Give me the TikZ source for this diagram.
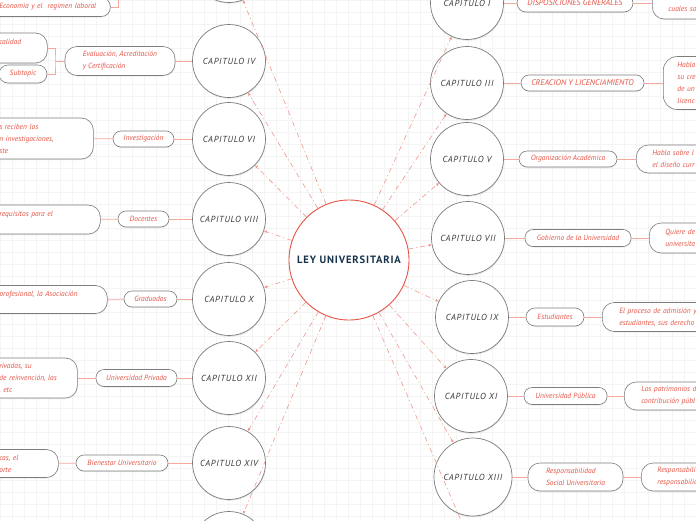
\documentclass[tikz,border=0pt]{standalone}
\usepackage{fontspec}
\setmainfont{PT Sans}
\newfontfamily\capfont{PT Sans}[LetterSpace=8]
\usetikzlibrary{shadows,arrows.meta}
\definecolor{leyred}{RGB}{230,84,70}
\definecolor{linkred}{RGB}{244,168,158}
\definecolor{dashred}{RGB}{242,150,138}
\definecolor{capgray}{RGB}{125,125,125}
\definecolor{captext}{RGB}{55,55,55}
\definecolor{leyblue}{RGB}{22,52,78}
\definecolor{gridgray}{RGB}{244,244,244}

\begin{document}
\begin{tikzpicture}[
    x=1pt, y=-1pt,
    gridline/.style={gridgray, line width=0.4pt},
    core/.style={circle, draw=leyred, line width=0.9pt, fill=white,
      minimum size=120pt, inner sep=0pt, text=leyblue,
      font=\capfont\bfseries\fontsize{10.6}{13}\selectfont},
    chapter/.style={circle, draw=capgray, line width=0.7pt, fill=white,
      minimum size=73pt, inner sep=0pt, text=captext,
      font=\capfont\itshape\fontsize{8.8}{10}\selectfont,
      drop shadow={opacity=0.18, shadow xshift=0.4pt, shadow yshift=-1.3pt}},
    topic/.style={draw=capgray, line width=0.6pt, fill=white,
      rounded corners=8pt, inner xsep=4pt, inner ysep=0pt, text=leyred,
      font=\itshape\fontsize{7.5}{12}\selectfont, align=center,
      drop shadow={opacity=0.15, shadow xshift=0.3pt, shadow yshift=-1pt}},
    capstopic/.style={topic, font=\itshape\fontsize{8.2}{12}\selectfont},
    note/.style={topic, rounded corners=12pt, align=left, inner xsep=13pt},
    link/.style={linkred, line width=0.8pt},
    spoke/.style={dashred, line width=0.6pt,
      dash pattern=on 5pt off 3pt on 1pt off 3pt,
      -{Latex[length=3pt,width=3pt]}},
  ]

\useasboundingbox (0,0) rectangle (696,520);
\clip (0,0) rectangle (696,520);

% Page background with the faint squared grid.
\fill[white] (0,0) rectangle (696,520);
\draw[gridline, step=12pt] (0,0) grid (696,520);

% Central topic.
\node[core] (ley) at (349,260) {LEY UNIVERSITARIA};

% Even chapters on the left, odd chapters on the right; the first and last
% of each column sit partly off the page, their titles out of sight.
\node[chapter] (capII)   at (229,-34) {};
\node[chapter] (capIV)   at (229,61)  {CAPITULO IV};
\node[chapter] (capVI)   at (229,139) {CAPITULO VI};
\node[chapter] (capVIII) at (229,219) {CAPITULO VIII};
\node[chapter] (capX)    at (229,299) {CAPITULO X};
\node[chapter] (capXII)  at (229,378) {CAPITULO XII};
\node[chapter] (capXIV)  at (229,463) {CAPITULO XIV};
\node[chapter] (capXVI)  at (229,548) {};

\node[chapter] (capI)    at (467,3)   {CAPITULO I};
\node[chapter] (capIII)  at (467,83)  {CAPITULO III};
\node[chapter] (capV)    at (467,159) {CAPITULO V};
\node[chapter] (capVII)  at (468,238) {CAPITULO VII};
\node[chapter] (capIX)   at (472,317) {CAPITULO IX};
\node[chapter] (capXI)   at (471,396) {CAPITULO XI};
\node[chapter, minimum size=78pt] (capXIII) at (473,477) {CAPITULO XIII};
\node[chapter] (capXV)   at (478,560) {};

\foreach \cap in {capII,capIV,capVI,capVIII,capX,capXII,capXIV,capXVI,
                  capI,capIII,capV,capVII,capIX,capXI,capXIII,capXV}
  \draw[spoke] (ley) -- (\cap);

% Left column: chapter titles and their notes, cut by the page edge.
\node[note, anchor=west, text width=98pt, minimum height=19pt,
  rounded corners=9pt] (economia) at (-14,7)
  {Economia y el~~regimen laboral};
\coordinate (brII) at (118,-12);
\draw[link] (economia.east) -| (brII);

\node[topic, align=left, minimum width=110pt, minimum height=29pt,
  rounded corners=12pt] (evaluacion) at (120,61)
  {Evaluación, Acreditación\\y Certificación};
\node[note, anchor=west, text width=35pt, minimum height=30pt] (calidad)
  at (-14,48) {calidad\\\mbox{}};
\node[topic, minimum width=48pt, minimum height=18pt, rounded corners=9pt]
  (subtopic) at (23,74) {Subtopic};
\coordinate (brIV) at (55,61);
\draw[link] (capIV) -- (evaluacion);
\draw[link] (calidad.east) -| (brIV) |- (subtopic.east);
\draw[link] (brIV) -- (evaluacion.west);

\node[topic, minimum width=61pt, minimum height=16pt] (investigacion)
  at (143.5,139) {Investigación};
\node[note, anchor=west, text width=81pt, minimum height=41pt] (invnote)
  at (-14,138.5) {s reciben los\\n investigaciones,\\ste};
\draw[link] (capVI) -- (investigacion);
\draw[link] (investigacion) -- (invnote);

\node[topic, minimum width=51pt, minimum height=16pt] (docentes)
  at (143.5,219) {Docentes};
\node[note, anchor=west, text width=88pt, minimum height=29pt] (docnote)
  at (-14,219.5) {requisitos para el\\\mbox{}};
\draw[link] (capVIII) -- (docentes);
\draw[link] (docentes) -- (docnote);

\node[topic, minimum width=53pt, minimum height=16pt] (graduados)
  at (150.5,299) {Graduados};
\node[note, anchor=west, text width=95pt, minimum height=28pt] (gradnote)
  at (-14,299.5) {profesional, la Asociación\\\mbox{}};
\draw[link] (capX) -- (graduados);
\draw[link] (graduados) -- (gradnote);

\node[topic, minimum width=81pt, minimum height=17pt] (privada)
  at (136.5,378) {Universidad Privada};
\node[note, anchor=west, text width=65pt, minimum height=40pt] (privnote)
  at (-14,378) {rivadas, su\\de reinvención, las\\, etc};
\draw[link] (capXII) -- (privada);
\draw[link] (privada) -- (privnote);

\node[topic, minimum width=92pt, minimum height=16pt] (bienestar)
  at (122,463) {Bienestar Universitario};
\node[note, anchor=west, text width=46pt, minimum height=28pt] (bienote)
  at (-14,463.5) {cas, el\\orte};
\draw[link] (capXIV) -- (bienestar);
\draw[link] (bienestar) -- (bienote);

% Right column: chapter titles and their notes, cut by the page edge.
\node[capstopic, minimum width=116pt, minimum height=18pt,
  rounded corners=9pt] (disposiciones) at (575,3) {DISPOSICIONES GENERALES};
\node[note, anchor=west, text width=90pt, inner xsep=16pt,
  minimum height=32pt] (dispnote) at (652,3) {en este\\cuales so};
\draw[link] (capI) -- (disposiciones);
\draw[link] (disposiciones) -- (dispnote);

\node[capstopic, minimum width=123pt, minimum height=16pt] (creacion)
  at (582.5,83) {CREACION Y LICENCIAMIENTO};
\node[note, anchor=west, text width=90pt, inner xsep=14pt,
  minimum height=53pt, rounded corners=14pt] (creanote) at (663,83)
  {Habla\\su cre\\de un\\licenc};
\draw[link] (capIII) -- (creacion);
\draw[link] (creacion) -- (creanote);

\node[topic, minimum width=98pt, minimum height=16pt] (organizacion)
  at (568,159) {Organización Académica};
\node[note, anchor=west, text width=90pt, inner xsep=16pt,
  minimum height=28pt] (orgnote) at (636,159)
  {Habla sobre l\\el diseño curr};
\draw[link] (capV) -- (organizacion);
\draw[link] (organizacion) -- (orgnote);

\node[topic, minimum width=106pt, minimum height=17pt] (gobierno)
  at (578,238) {Gobierno de la Universidad};
\node[note, anchor=west, text width=90pt, inner xsep=16pt,
  minimum height=30pt] (gobnote) at (649,238) {Quiere de\\universita};
\draw[link] (capVII) -- (gobierno);
\draw[link] (gobierno) -- (gobnote);

\node[topic, minimum width=58pt, minimum height=18pt, rounded corners=9pt]
  (estudiantes) at (555,317) {Estudiantes};
\node[note, anchor=west, text width=100pt, inner xsep=17pt,
  minimum height=29pt] (estnote) at (602,317)
  {El proceso de admisión y\\estudiantes, sus derecho};
\draw[link] (capIX) -- (estudiantes);
\draw[link] (estudiantes) -- (estnote);

\node[topic, minimum width=83pt, minimum height=17pt] (publica)
  at (565.5,396) {Universidad Pública};
\node[note, anchor=west, text width=90pt, inner xsep=17pt,
  minimum height=28pt] (pubnote) at (624,396)
  {Los patrimonios d\\contribución públ};
\draw[link] (capXI) -- (publica);
\draw[link] (publica) -- (pubnote);

\node[topic, align=left, minimum width=95pt, minimum height=28pt,
  rounded corners=12pt] (responsabilidad) at (575.5,477)
  {Responsabilidad\\Social Universitaria};
\node[note, anchor=west, text width=90pt, inner xsep=16pt,
  minimum height=28pt] (respnote) at (641,477)
  {Responsabili\\responsabilid};
\draw[link] (capXIII) -- (responsabilidad);
\draw[link] (responsabilidad) -- (respnote);

\end{tikzpicture}
\end{document}
